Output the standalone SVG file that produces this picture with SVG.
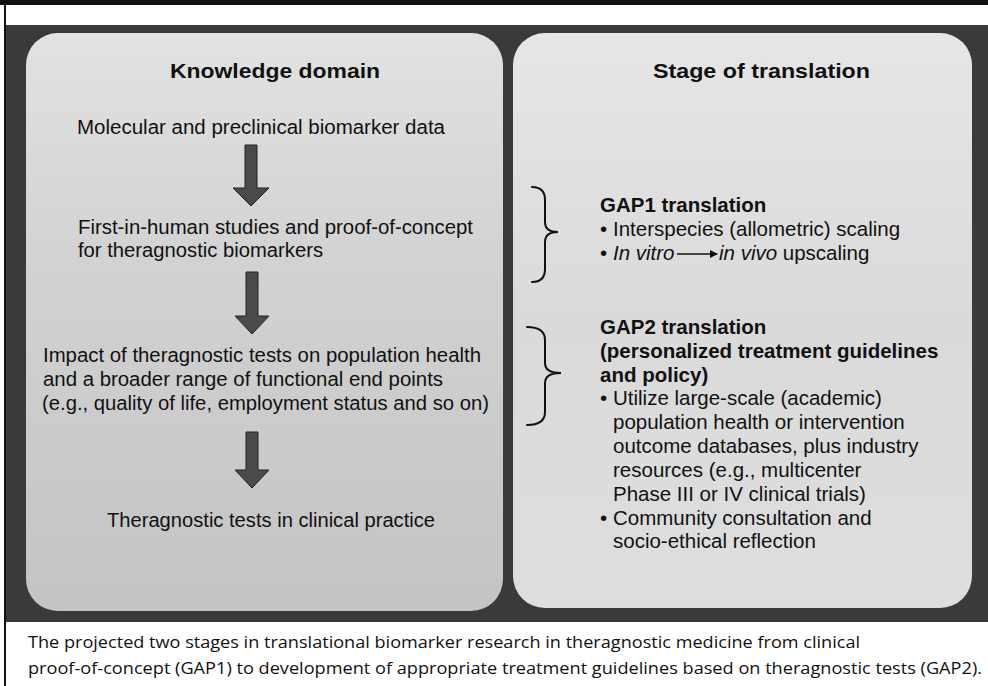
<svg xmlns="http://www.w3.org/2000/svg" width="988" height="686" viewBox="0 0 988 686">
<style>
  .t { font-family: "Liberation Sans", Arial, sans-serif; font-size: 20px; fill: #111; }
  .r { font-size: 20.5px; }
  .b { font-weight: bold; }
  .h { font-size: 21px; }
  .i { font-style: italic; }
  .cap { font-family: "Open Sans", "Noto Sans", sans-serif; font-size: 16px; fill: #111; }
  .arrow { fill: #4a4a4a; stroke: #222; stroke-width: 1; }
  .brace { fill: none; stroke: #111; stroke-width: 2; stroke-linecap: round; }
</style>
<defs>
  <linearGradient id="gl" x1="0" y1="0" x2="0" y2="1">
    <stop offset="0" stop-color="#e2e2e2"/>
    <stop offset="0.4" stop-color="#d2d2d2"/>
    <stop offset="1" stop-color="#c4c4c4"/>
  </linearGradient>
  <linearGradient id="gr" x1="0" y1="0" x2="0" y2="1">
    <stop offset="0" stop-color="#e6e6e6"/>
    <stop offset="0.5" stop-color="#dadada"/>
    <stop offset="1" stop-color="#dedede"/>
  </linearGradient>
  <marker id="ah" markerWidth="8" markerHeight="8" refX="7" refY="4" orient="auto" markerUnits="userSpaceOnUse">
    <path d="M0,0 L8,4 L0,8 Z" fill="#111"/>
  </marker>
</defs>
<rect width="988" height="686" fill="#ffffff"/>
<rect x="0" y="0" width="988" height="5" fill="#111"/>
<rect x="4" y="0" width="2" height="686" fill="#111"/>
<g id="frame">
  <rect x="6" y="25" width="982" height="597" fill="#3a3a3a"/>
</g>
<g id="panel-knowledge">
  <rect x="26" y="33" width="477" height="578" rx="32" fill="url(#gl)"/>
  <text class="t b h" x="170" y="78" textLength="210" lengthAdjust="spacingAndGlyphs">Knowledge domain</text>
</g>
<g id="panel-stage">
  <rect x="513" y="33" width="459" height="575" rx="32" fill="url(#gr)"/>
  <text class="t b h" x="653" y="78" textLength="217" lengthAdjust="spacingAndGlyphs">Stage of translation</text>
</g>
<g id="node-molecular">
  <text class="t" x="77" y="134" textLength="368" lengthAdjust="spacingAndGlyphs">Molecular and preclinical biomarker data</text>
</g>
<g id="node-first-in-human">
  <text class="t" x="78" y="234" textLength="395" lengthAdjust="spacingAndGlyphs">First-in-human studies and proof-of-concept</text>
  <text class="t" x="78" y="257" textLength="245" lengthAdjust="spacingAndGlyphs">for theragnostic biomarkers</text>
</g>
<g id="node-impact">
  <text class="t" x="43" y="362" textLength="438" lengthAdjust="spacingAndGlyphs">Impact of theragnostic tests on population health</text>
  <text class="t" x="43" y="386" textLength="400" lengthAdjust="spacingAndGlyphs">and a broader range of functional end points</text>
  <text class="t" x="42" y="410" textLength="447" lengthAdjust="spacingAndGlyphs">(e.g., quality of life, employment status and so on)</text>
</g>
<g id="node-clinical">
  <text class="t" x="107" y="527" textLength="328" lengthAdjust="spacingAndGlyphs">Theragnostic tests in clinical practice</text>
</g>
<g id="connectors">
  <polygon class="arrow" points="245,145 257,145 257,188 269,188 251,206 233,188 245,188"/>
  <polygon class="arrow" points="246,272 258,272 258,316 269,316 252,334 235,316 246,316"/>
  <polygon class="arrow" points="246,432 258,432 258,470 269,470 252,488 235,470 246,470"/>
  <path class="brace" d="M532,187 Q545,187 545,200 L545,222 Q545,232 558,232 Q545,232 545,242 L545,269 Q545,282 532,282"/>
  <path class="brace" d="M527,327 Q545,327 545,340 L545,363 Q545,373 561,373 Q545,373 545,383 L545,412 Q545,425 527,425"/>
</g>
<g id="node-gap1">
  <text class="t r b" x="600" y="212">GAP1 translation</text>
  <text class="t r" x="600" y="236">•</text>
  <text class="t r" x="613" y="236">Interspecies (allometric) scaling</text>
  <text class="t r" x="600" y="260">•</text>
  <text class="t r i" x="613" y="260">In vitro</text>
  <line x1="677" y1="254" x2="717" y2="254" stroke="#111" stroke-width="1.5" marker-end="url(#ah)"/>
  <text class="t r" x="719" y="260"><tspan class="i">in vivo</tspan> upscaling</text>
</g>
<g id="node-gap2">
  <text class="t r b" x="600" y="334">GAP2 translation</text>
  <text class="t r b" x="600" y="358">(personalized treatment guidelines</text>
  <text class="t r b" x="600" y="382">and policy)</text>
  <text class="t r" x="600" y="405">•</text>
  <text class="t r" x="613" y="405">Utilize large-scale (academic)</text>
  <text class="t r" x="613" y="429">population health or intervention</text>
  <text class="t r" x="613" y="453">outcome databases, plus industry</text>
  <text class="t r" x="613" y="477">resources (e.g., multicenter</text>
  <text class="t r" x="613" y="501">Phase III or IV clinical trials)</text>
  <text class="t r" x="600" y="525">•</text>
  <text class="t r" x="613" y="525">Community consultation and</text>
  <text class="t r" x="613" y="548">socio-ethical reflection</text>
</g>
<g id="caption">
  <text class="cap" x="28" y="648" textLength="832" lengthAdjust="spacingAndGlyphs">The projected two stages in translational biomarker research in theragnostic medicine from clinical</text>
  <text class="cap" x="28" y="674" textLength="954" lengthAdjust="spacingAndGlyphs">proof-of-concept (GAP1) to development of appropriate treatment guidelines based on theragnostic tests (GAP2).</text>
</g>
</svg>
